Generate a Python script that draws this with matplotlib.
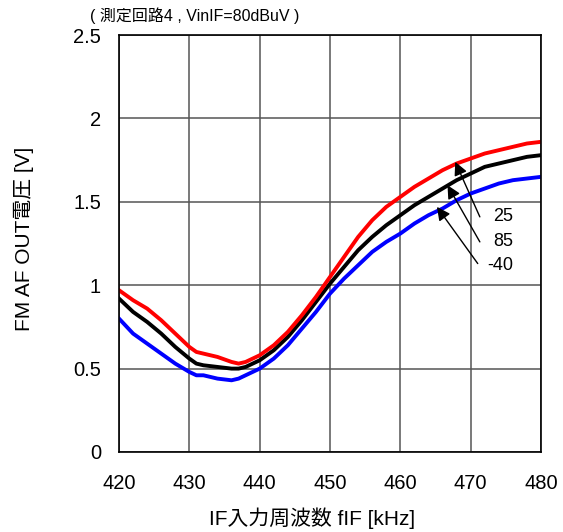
import numpy as np
import matplotlib.pyplot as plt

plt.rcParams['font.family'] = ['Liberation Sans', 'Noto Sans CJK JP', 'DejaVu Sans']

# IF frequency [kHz]
freq = [420, 422, 424, 426, 428, 430, 431, 432, 434, 436, 437, 438, 440, 442, 444,
        446, 448, 450, 452, 454, 456, 458, 460, 462, 464, 466, 468, 470, 472, 474,
        476, 478, 480]

# FM AF OUT voltage [V] per temperature
v_25 = [0.97, 0.91, 0.86, 0.79, 0.71, 0.63, 0.60, 0.59, 0.57, 0.54, 0.53, 0.54, 0.58,
        0.64, 0.72, 0.82, 0.93, 1.05, 1.17, 1.29, 1.39, 1.47, 1.53, 1.59, 1.64, 1.69,
        1.73, 1.76, 1.79, 1.81, 1.83, 1.85, 1.86]
v_85 = [0.92, 0.84, 0.78, 0.71, 0.63, 0.56, 0.53, 0.52, 0.51, 0.50, 0.50, 0.51, 0.55,
        0.61, 0.69, 0.79, 0.90, 1.01, 1.11, 1.21, 1.29, 1.36, 1.42, 1.48, 1.53, 1.58,
        1.63, 1.67, 1.71, 1.73, 1.75, 1.77, 1.78]
v_m40 = [0.80, 0.71, 0.65, 0.59, 0.53, 0.48, 0.46, 0.46, 0.44, 0.43, 0.44, 0.46, 0.50,
         0.56, 0.64, 0.74, 0.84, 0.95, 1.04, 1.12, 1.20, 1.26, 1.31, 1.37, 1.42, 1.46,
         1.51, 1.55, 1.58, 1.61, 1.63, 1.64, 1.65]

# annotations: label, arrow head (x, y), arrow tail (x, y), text position (x, y)
labels = ['25', '85', '-40']
heads = [(467.8, 1.74), (466.7, 1.60), (465.2, 1.47)]
tails = [(471.3, 1.41), (471.3, 1.26), (471.0, 1.13)]
text_pos = [(473.2, 1.41), (473.2, 1.26), (472.3, 1.12)]

fig = plt.figure(figsize=(5.63, 5.32), dpi=100)
ax = fig.add_axes([0.2114, 0.1504, 0.7496, 0.7836])

ax.plot(freq, v_m40, color='#0000ff', lw=2.8)
ax.plot(freq, v_85, color='black', lw=2.8)
ax.plot(freq, v_25, color='#ff0000', lw=2.8)

for lab, h, t, p in zip(labels, heads, tails, text_pos):
    ax.annotate('', xy=h, xytext=t,
                arrowprops=dict(arrowstyle='-|>', color='black', lw=1.0,
                                mutation_scale=20, shrinkA=0, shrinkB=0))
    ax.text(p[0], p[1], lab, fontsize=13, va='center', ha='left')

ax.set_xlim(420, 480)
ax.set_ylim(0, 2.5)
ax.set_xticks(np.arange(420, 481, 10))
ax.set_yticks([0, 0.5, 1, 1.5, 2, 2.5])
ax.set_yticklabels(['0', '0.5', '1', '1.5', '2', '2.5'])
ax.grid(True, color='#555555', lw=1.1)
ax.tick_params(direction='in', length=0, labelsize=14.5)
ax.tick_params(axis='x', pad=16)
ax.tick_params(axis='y', pad=13)
for s in ax.spines.values():
    s.set_linewidth(1.2)

ax.set_xlabel('IF入力周波数 fIF [kHz]', fontsize=15, va='center')
ax.xaxis.set_label_coords(0.457, -0.158)
ax.set_ylabel('FM AF OUT電圧 [V]', fontsize=15, va='center')
ax.yaxis.set_label_coords(-0.225, 0.511)
fig.text(0.16, 0.97, '( 測定回路4 , VinIF=80dBuV )', fontsize=11.5, ha='left', va='center')

fig.savefig('out.png', dpi=100)
